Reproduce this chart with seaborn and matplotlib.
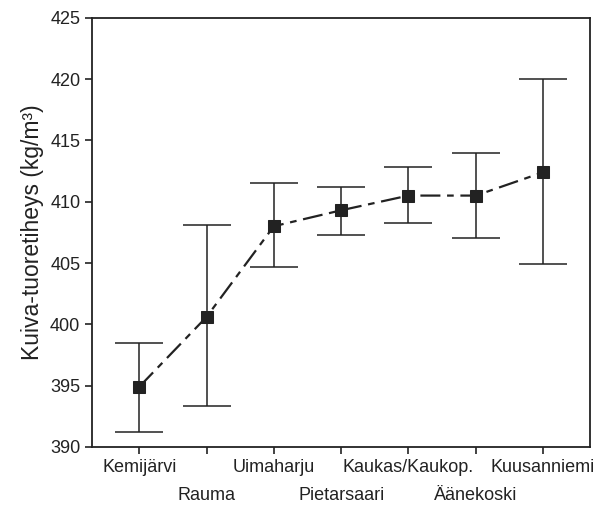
import numpy as np
import pandas as pd
import seaborn as sns
import matplotlib.pyplot as plt

sites = ["Kemijärvi", "Rauma", "Uimaharju", "Pietarsaari",
         "Kaukas/Kaukop.", "Äänekoski", "Kuusanniemi"]
mean = [394.9, 400.6, 408.0, 409.3, 410.5, 410.5, 412.4]
lower = [391.2, 393.3, 404.7, 407.3, 408.3, 407.0, 404.9]
upper = [398.5, 408.1, 411.5, 411.2, 412.8, 414.0, 420.0]

df = pd.DataFrame({"site": sites, "mean": mean, "lo": lower, "hi": upper})
df["pos"] = np.arange(len(df))

sns.set_style("ticks")
plt.rcParams["font.family"] = ["Liberation Sans", "DejaVu Sans"]
ink = "#222222"

fig = plt.figure(figsize=(5.98, 5.09), dpi=100)
ax = fig.add_axes([0.154, 0.122, 0.833, 0.843])

# error bars
ax.errorbar(df["pos"], df["mean"],
            yerr=[df["mean"] - df["lo"], df["hi"] - df["mean"]],
            fmt="none", ecolor=ink, elinewidth=1.1, capsize=17, capthick=1.1)

# mean line with markers
sns.lineplot(data=df, x="pos", y="mean", ax=ax, color=ink, linewidth=1.6,
             marker="s", markersize=9, markeredgecolor=ink, markerfacecolor=ink)
ax.lines[-1].set_dashes([9, 3, 3, 3])

ax.set_xlim(-0.7, 6.7)
ax.set_ylim(390, 425)
ax.set_yticks(np.arange(390, 426, 5))
ax.set_xticks(df["pos"])
ax.set_xticklabels(sites)
ax.set_xlabel("")
ax.set_ylabel("Kuiva-tuoretiheys (kg/m³)", fontsize=16.5, color=ink, labelpad=4)

ax.tick_params(axis="both", labelsize=13, colors=ink, length=5, width=1.2,
               direction="out")
# staggered category labels: odd ones on a second row
for i, t in enumerate(ax.xaxis.get_major_ticks()):
    t.set_pad(4 if i % 2 == 0 else 24)
for sp in ax.spines.values():
    sp.set_visible(True)
    sp.set_color(ink)
    sp.set_linewidth(1.3)

fig.savefig("out.png", dpi=100)
